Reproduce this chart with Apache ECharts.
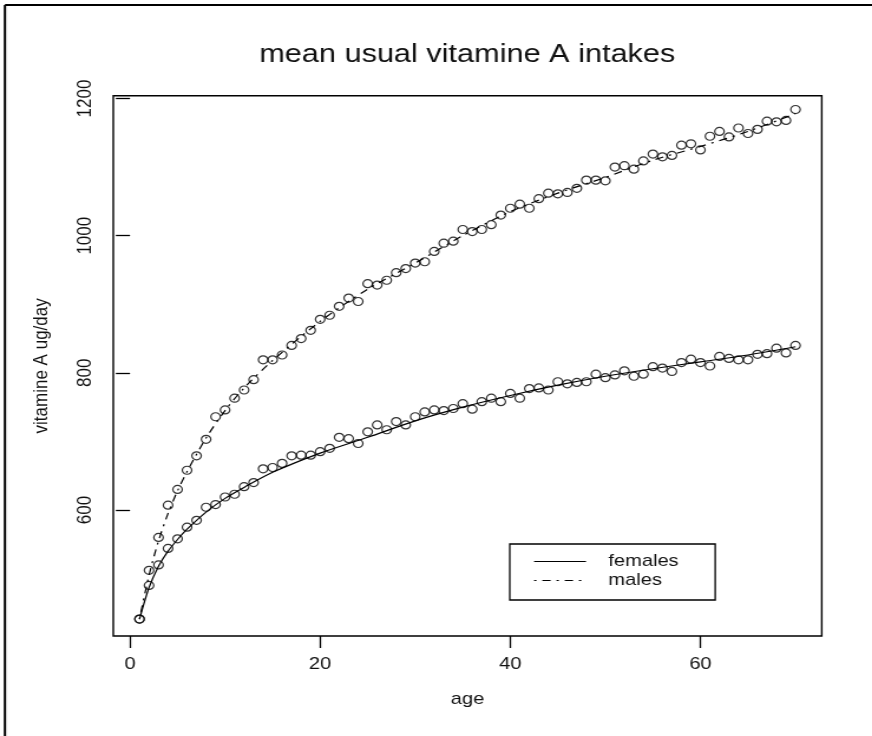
<!DOCTYPE html>
<html>
<head>
<meta charset="utf-8">
<title>mean usual vitamine A intakes</title>
<script src="https://cdn.jsdelivr.net/npm/echarts@6/dist/echarts.min.js"></script>
<style>
  html, body { margin: 0; padding: 0; background: #fff; overflow: hidden; }
  /* the plot is laid out on a narrower canvas and widened to fill the page */
  #chart { width: 739px; height: 736px; transform: scaleX(1.18); transform-origin: 0 0; }
</style>
</head>
<body>
<div id="chart"></div>
<script>
// ages of the observed means
const ages = [];
for (let a = 1; a <= 70; a++) ages.push(a);

// observed mean usual intakes (ug/day), one per age
const femalesObs = [441, 490, 520, 544, 558, 575, 585, 604, 608, 619,
  623, 634, 640, 660, 662, 668, 679, 680, 680, 685,
  690, 706, 704, 697, 714, 724, 717, 729, 724, 736,
  743, 746, 745, 748, 755, 747, 758, 763, 758, 770,
  763, 777, 778, 775, 787, 784, 786, 787, 798, 793,
  797, 803, 795, 798, 809, 807, 802, 815, 820, 815,
  810, 824, 821, 819, 819, 827, 828, 836, 829, 840];

const malesObs = [441, 512, 560, 607, 630, 658, 679, 703, 736, 746,
  763, 775, 790, 819, 819, 826, 840, 850, 862, 878,
  884, 897, 909, 904, 930, 928, 935, 946, 952, 960,
  962, 977, 989, 992, 1009, 1006, 1009, 1016, 1030, 1040,
  1046, 1040, 1054, 1062, 1061, 1063, 1069, 1081, 1081, 1080,
  1100, 1102, 1097, 1109, 1119, 1115, 1117, 1132, 1134, 1125,
  1145, 1152, 1144, 1157, 1149, 1155, 1167, 1166, 1168, 1184];

// fitted curves, sampled at these ages
const fitAges = [1, 2, 3, 4, 5, 6, 8, 10, 12, 15, 20, 25, 30, 35, 40, 45, 50, 55, 60, 65, 70];
const femalesFit = [441, 487, 518, 540, 557, 572, 597, 617, 633, 655, 683, 706, 730, 750, 767, 782, 795, 806, 816, 826, 838];
const malesFit = [441, 505, 555, 595, 628, 656, 705, 745, 778, 818, 875, 922, 960, 1000, 1035, 1062, 1085, 1110, 1130, 1152, 1178];

// axis ticks
const xTicks = [0, 20, 40, 60];
const yTicks = [600, 800, 1000, 1200];

const pairs = (xs, ys) => xs.map((x, i) => [x, ys[i]]);

const FONT = 'Liberation Sans, Arial, sans-serif';
const INK = '#111';

const chart = echarts.init(document.getElementById('chart'), null, { renderer: 'canvas' });

chart.setOption({
  backgroundColor: '#fff',
  animation: false,
  title: {
    text: 'mean usual vitamine A intakes',
    left: 391, top: 37, textAlign: 'center',
    textStyle: { fontFamily: FONT, fontSize: 26, fontWeight: 'normal', color: INK }
  },
  grid: {
    left: 96, top: 95.7, width: 600.4, height: 540.3,
    show: true, borderColor: '#000', borderWidth: 1.4, backgroundColor: 'transparent'
  },
  xAxis: {
    type: 'value', min: -1.76, max: 72.76,
    name: 'age', nameLocation: 'middle', nameGap: 55,
    nameTextStyle: { fontFamily: FONT, fontSize: 17, color: INK },
    axisLine: { show: false },
    axisTick: { show: true, customValues: xTicks, length: 12, lineStyle: { color: '#000', width: 1.3 } },
    axisLabel: { customValues: xTicks, margin: 20, fontFamily: FONT, fontSize: 17, color: INK,
      formatter: v => String(v) },
    splitLine: { show: false }
  },
  yAxis: {
    type: 'value', min: 416.3, max: 1204.1,
    name: 'vitamine A ug/day', nameLocation: 'middle', nameGap: 52, nameRotate: 90,
    nameTextStyle: { fontFamily: FONT, fontSize: 17, color: INK },
    axisLine: { show: false },
    axisTick: { show: true, customValues: yTicks, length: 12, lineStyle: { color: '#000', width: 1.3 } },
    axisLabel: { customValues: yTicks, rotate: 90, margin: 15, fontFamily: FONT, fontSize: 17, color: INK,
      formatter: v => String(v) },
    splitLine: { show: false }
  },
  legend: {
    data: ['females', 'males'],
    orient: 'vertical',
    left: 432, top: 544,
    padding: [9, 31, 11, 20],
    itemWidth: 44, itemHeight: 10, itemGap: 2,
    itemStyle: { color: 'rgba(0,0,0,0)', borderWidth: 0, opacity: 0 },
    lineStyle: { width: 1.2, color: '#000' },
    borderColor: '#000', borderWidth: 1.3, backgroundColor: '#fff',
    textStyle: { fontFamily: FONT, fontSize: 17, color: INK, lineHeight: 17, padding: [0, 0, 0, 14] },
    selectedMode: false
  },
  graphic: [
    { type: 'line', shape: { x1: 4.2, y1: 5, x2: 739, y2: 5 }, style: { stroke: '#000', lineWidth: 2 }, silent: true },
    { type: 'line', shape: { x1: 4.2, y1: 5, x2: 4.2, y2: 736 }, style: { stroke: '#000', lineWidth: 2 }, silent: true }
  ],
  series: [
    {
      name: 'females', type: 'line', smooth: 0.3, symbol: 'none',
      data: pairs(fitAges, femalesFit),
      lineStyle: { color: '#000', width: 1.2, type: 'solid' },
      itemStyle: { color: '#000' }, z: 2
    },
    {
      name: 'males', type: 'line', smooth: 0.3, symbol: 'none',
      data: pairs(fitAges, malesFit),
      lineStyle: { color: '#000', width: 1.2, type: [2, 5, 7, 5] },
      itemStyle: { color: '#000' }, z: 2
    },
    {
      name: 'females obs', type: 'scatter', symbol: 'circle', symbolSize: 8,
      data: pairs(ages, femalesObs),
      itemStyle: { color: 'rgba(0,0,0,0)', borderColor: '#000', borderWidth: 1.2 }, z: 3
    },
    {
      name: 'males obs', type: 'scatter', symbol: 'circle', symbolSize: 8,
      data: pairs(ages, malesObs),
      itemStyle: { color: 'rgba(0,0,0,0)', borderColor: '#000', borderWidth: 1.2 }, z: 3
    }
  ]
});
</script>
</body>
</html>
